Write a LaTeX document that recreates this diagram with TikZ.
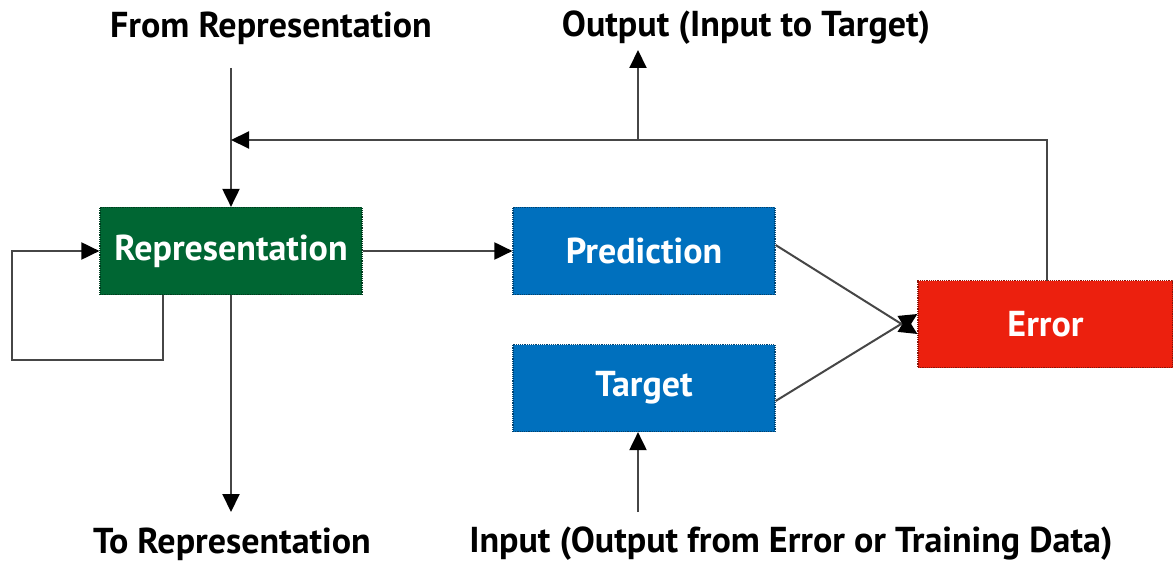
\documentclass[tikz,border=0pt]{standalone}
\usepackage{fontspec}
\setmainfont{PT Sans}
\usepackage{tikz}
\usetikzlibrary{arrows.meta}

\definecolor{repgreen}{RGB}{0,102,51}
\definecolor{predblue}{RGB}{0,112,190}
\definecolor{errred}{RGB}{236,32,14}
\definecolor{wire}{RGB}{70,70,70}

\begin{document}
\begin{tikzpicture}[x=1pt, y=-1pt]
    \tikzset{>={Triangle[length=18pt, width=17pt, color=black]}}
    \tikzset{unit/.style={minimum width=262pt, minimum height=87pt,
        inner sep=0pt, densely dotted, line width=1.2pt,
        text=white, font=\fontsize{36}{42}\selectfont\bfseries}}
    \tikzset{label/.style={font=\fontsize{36}{42}\selectfont\bfseries}}
    \tikzset{wire/.style={draw=wire, line width=2pt}}

    \useasboundingbox (0, 0) rectangle (1173, 564);

    % Draw the boxes
    \node[unit, fill=repgreen, draw=repgreen!60!black] (rep) at (231, 251) {Representation};
    \node[unit, fill=predblue, draw=predblue!60!black] (pred) at (644, 251) {Prediction};
    \node[unit, fill=predblue, draw=predblue!60!black] (targ) at (644, 388) {Target};
    \node[unit, fill=errred, draw=errred!60!black, minimum width=255pt] (err) at (1045.5, 324) {Error};

    % Draw the labels
    \node[label] (from) at (271, 28) {From Representation};
    \node[label] (out) at (746, 28) {Output (Input to Target)};
    \node[label] (to) at (232, 544) {To Representation};
    \node[label] (in) at (791, 544) {Input (Output from Error or Training Data)};

    \coordinate (fromend) at (231, 68);
    \coordinate (toend) at (231, 512);
    \coordinate (inend) at (638, 512);
    \coordinate (outend) at (638, 50);
    \coordinate (errtop) at (1047, 281);
    \coordinate (back) at (1047, 140);
    \coordinate (backend) at (231, 140);
    \coordinate (outfoot) at (638, 140);
    \coordinate (loopa) at (163, 295);

    % Draw the connectors
    \draw[wire, ->] (fromend) -- (rep.north);
    \draw[wire, ->] (rep.south) -- (toend);
    \draw[wire, ->] (rep.east) -- (pred.west);
    \draw[wire, ->] (errtop) -- (back) -- (backend);
    \draw[wire, ->] (outfoot) -- (outend);
    \draw[wire, ->] (inend) -- (targ.south -| inend);
    \draw[wire, ->] (loopa) -- (163, 360) -- (12, 360) -- (12, 251) -- (rep.west);
    \draw[wire, ->] (pred.east) ++(0, -6) -- ([yshift=-10pt]err.west);
    \draw[wire, ->] (targ.east) ++(0, 13) -- ([yshift=10pt]err.west);
\end{tikzpicture}
\end{document}
